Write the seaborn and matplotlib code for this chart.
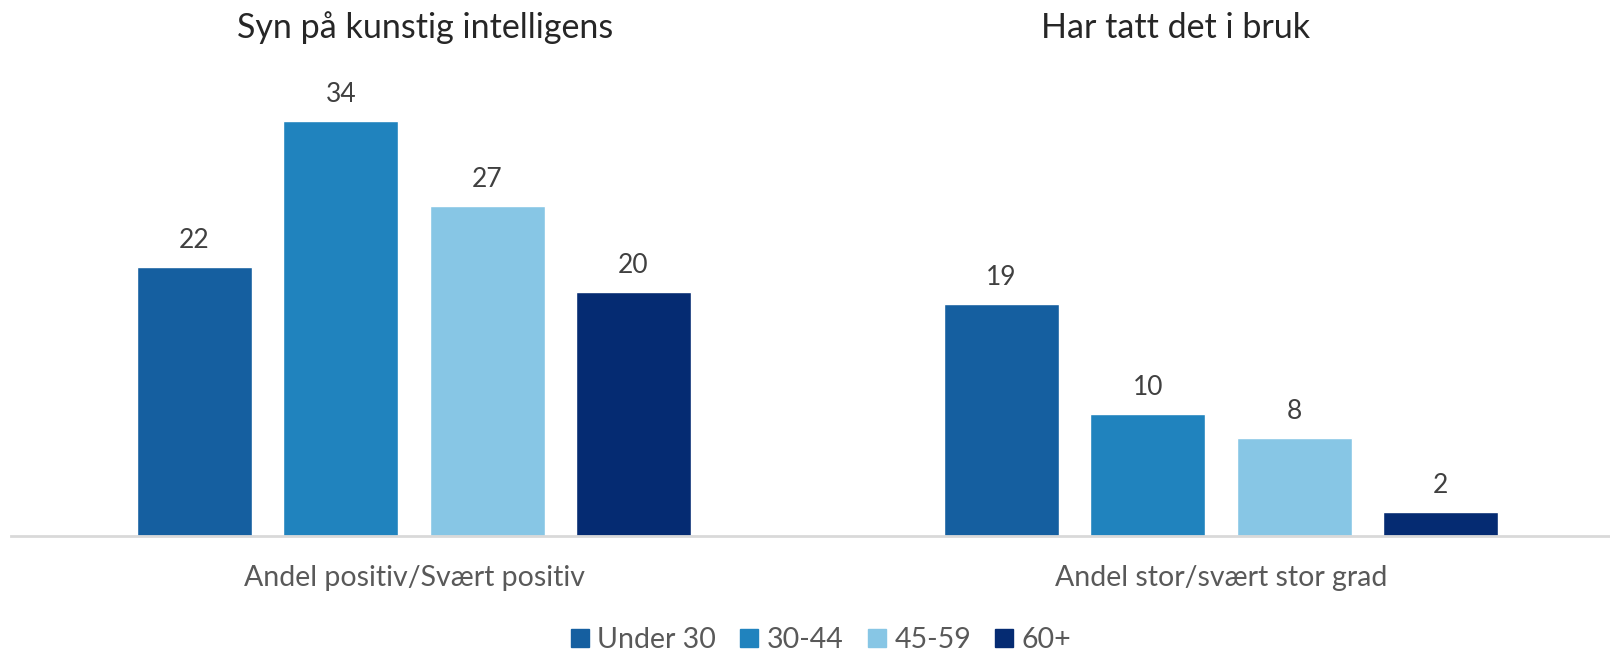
import pandas as pd
import matplotlib.pyplot as plt
import seaborn as sns

# Data
groups = ['Andel positiv/Svært positiv', 'Andel stor/svært stor grad']
ages = ['Under 30', '30-44', '45-59', '60+']
positiv = [22, 34, 27, 20]
i_bruk = [19, 10, 8, 2]
colors = ['#155FA0', '#2083BE', '#87C6E5', '#052B72']

df = pd.DataFrame({
    'gruppe': [groups[0]] * 4 + [groups[1]] * 4,
    'alder': ages * 2,
    'andel': positiv + i_bruk,
})

sns.set_style('white')
plt.rcParams['font.family'] = ['Lato', 'DejaVu Sans']

fig = plt.figure(figsize=(16.1, 6.52), dpi=100)
# axes is slightly wider than the figure so the category spacing matches
ax = fig.add_axes([10.5 / 1610, 1 - 536 / 652, 1614 / 1610, 464 / 652])

sns.barplot(data=df, x='gruppe', y='andel', hue='alder', palette=colors, saturation=1,
            width=0.725, gap=0.214, ax=ax, legend=False)

ax.set_ylim(0, 38)
ax.set_xlim(-0.5, 1.5)
for c in ax.containers:
    ax.bar_label(c, fmt='%d', padding=10, fontsize=19, color='#404040')

ax.set_xlabel('')
ax.set_ylabel('')
ax.set_yticks([])
ax.tick_params(axis='x', length=0, pad=21, labelsize=20.5, labelcolor='#595959')
for s in ['top', 'right', 'left']:
    ax.spines[s].set_visible(False)
ax.spines['bottom'].set_color('#D9D9D9')
ax.spines['bottom'].set_linewidth(2)

fig.text(425 / 1610, 1 - 28 / 652, 'Syn på kunstig intelligens', ha='center', va='center', fontsize=24.5)
fig.text(1176 / 1610, 1 - 28 / 652, 'Har tatt det i bruk', ha='center', va='center', fontsize=24.5)

handles = [plt.Rectangle((0, 0), 1, 1, color=c) for c in colors]
fig.legend(handles, ages, loc='center', bbox_to_anchor=(821 / 1610, 1 - 640 / 652), ncol=4,
           frameon=False, fontsize=20.5, handlelength=0.63, handleheight=0.63, handletextpad=0.3,
           columnspacing=0.85, labelcolor='#595959')

fig.savefig('out.png', dpi=100)
